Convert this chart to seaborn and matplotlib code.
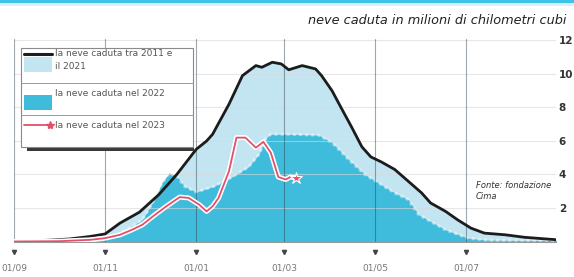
import numpy as np
import pandas as pd
import seaborn as sns
import matplotlib.pyplot as plt
from matplotlib.patches import Rectangle
from matplotlib.lines import Line2D
import matplotlib.patheffects as pe

# days counted from 1 September
days_mean = [0, 17, 37, 51, 61, 71, 84, 97, 109, 122, 129, 133, 144, 153, 162, 166, 173, 179,
             184, 193, 202, 206, 213, 219, 226, 233, 239, 246, 255, 264, 273, 279, 289, 297,
             306, 315, 329, 342, 364]
snow_mean = [0.0, 0.05, 0.15, 0.3, 0.45, 1.1, 1.75, 2.8, 4.0, 5.5, 6.0, 6.4, 8.2, 9.9, 10.5, 10.4, 10.7, 10.6,
             10.25, 10.5, 10.3, 9.9, 9.0, 8.0, 6.85, 5.65, 5.05, 4.75, 4.3, 3.6, 2.9, 2.3, 1.8, 1.3,
             0.8, 0.5, 0.4, 0.25, 0.1]

days_2022 = [0, 31, 57, 67, 77, 86, 94, 99, 104, 109, 114, 122, 134, 146, 157, 164, 169, 172,
             184, 204, 213, 224, 235, 244, 255, 264, 271, 289, 304, 317, 364]
snow_2022 = [0.0, 0.02, 0.1, 0.3, 0.8, 1.3, 2.5, 3.5, 4.1, 3.9, 3.3, 2.95, 3.3, 3.85, 4.45, 5.2, 6.2, 6.4,
             6.4, 6.35, 5.9, 4.9, 4.0, 3.5, 2.9, 2.5, 1.6, 0.7, 0.2, 0.08, 0.05]

days_2023 = [0, 31, 51, 61, 71, 79, 86, 93, 102, 111, 117, 124, 129, 133, 137, 144, 149, 155,
             162, 167, 172, 177, 182, 185, 189]
snow_2023 = [0.0, 0.02, 0.1, 0.2, 0.4, 0.7, 1.0, 1.5, 2.1, 2.65, 2.6, 2.2, 1.8, 2.1, 2.6, 4.2, 6.2, 6.2,
             5.6, 5.95, 5.3, 3.85, 3.7, 3.85, 3.8]

tick_days = [0, 61, 122, 181, 242, 303]
tick_labels = ['01/09', '01/11', '01/01', '01/03', '01/05', '01/07']
y_ticks = [2, 4, 6, 8, 10, 12]

light_blue = '#c3e5f2'
cyan = '#3fbcdb'
red = '#e4506a'

sns.set_style('white')
plt.rcParams['font.family'] = ['DejaVu Sans']

W, H = 574, 277
fig = plt.figure(figsize=(W / 100, H / 100), dpi=100)


def fx(px):
    return px / W


def fy(py):
    return 1 - py / H


ax = fig.add_axes([fx(14), fy(241.5), (556 - 14) / W, (241.5 - 38.8) / H])

mean_df = pd.DataFrame({'day': days_mean, 'snow': snow_mean})
df22 = pd.DataFrame({'day': days_2022, 'snow': snow_2022})
df23 = pd.DataFrame({'day': days_2023, 'snow': snow_2023})

ax.fill_between(mean_df['day'], 0, mean_df['snow'], color=light_blue, lw=0, zorder=1)
ax.fill_between(df22['day'], 0, df22['snow'], color=cyan, lw=0, zorder=2)
# fuzzy light edge on top of the 2022 area
ax.plot(df22['day'], df22['snow'], color='white', lw=2.2, ls=(0, (1, 1)), alpha=0.45, zorder=2.5)

for v in y_ticks:
    ax.axhline(v, color='#d8d8d8', lw=0.8, alpha=0.6, zorder=2.6)
for d in tick_days:
    ax.axvline(d, color='#2e3d48', lw=0.8, alpha=0.45, zorder=3)

sns.lineplot(data=mean_df, x='day', y='snow', ax=ax, color='#1c1c1c', lw=2, zorder=4)
sns.lineplot(data=df23, x='day', y='snow', ax=ax, color=red, lw=1.3, zorder=5,
             path_effects=[pe.withStroke(linewidth=3.6, foreground='white')])
ax.plot(df23['day'].iloc[-1], df23['snow'].iloc[-1], marker='*', ms=9, color=red,
        mec='white', mew=0.8, zorder=6)

ax.set_xlim(0, 363)
ax.set_ylim(0, 12.1)
ax.set_xlabel('')
ax.set_ylabel('')
for s in ['top', 'left', 'right']:
    ax.spines[s].set_visible(False)
ax.spines['bottom'].set_color('#9a9a9a')
ax.spines['bottom'].set_linewidth(0.8)

ax.set_xticks(tick_days)
ax.set_xticklabels(tick_labels)
ax.tick_params(axis='x', length=8, width=0.8, color='#444444', pad=8,
               labelsize=6.5, labelcolor='#777777')
ax.yaxis.tick_right()
ax.set_yticks(y_ticks)
ax.set_yticklabels([str(v) for v in y_ticks])
ax.tick_params(axis='y', length=0, pad=2, labelsize=7.5, labelcolor='#333333')
for t in ax.get_yticklabels():
    t.set_fontweight('bold')

# small arrow heads under the ticks
ax.plot(tick_days, [-0.052] * len(tick_days), 'v', ms=3, color='#444444',
        transform=ax.get_xaxis_transform(), clip_on=False)

# header line and title
fig.add_artist(Rectangle((0, fy(3)), 1, 3 / H, transform=fig.transFigure,
                         color='#3ec3e6', lw=0))
fig.add_artist(Rectangle((0, fy(6)), 1, 3 / H, transform=fig.transFigure,
                         color='#bfe8f5', lw=0, alpha=0.6))
fig.text(fx(308), fy(20), 'neve caduta in milioni di chilometri cubi', fontsize=9.3,
         style='italic', color='#222222', ha='left', va='center')

fig.text(fx(476), fy(181), 'Fonte: fondazione\nCima', fontsize=6, style='italic',
         color='#333333', ha='left', va='top', linespacing=1.3)

# legend box
fig.add_artist(Rectangle((fx(27), fy(151)), (194 - 27) / W, 4 / H, transform=fig.transFigure,
                         color='#3a3a3a', lw=0, zorder=10))
fig.add_artist(Rectangle((fx(21), fy(147)), (193 - 21) / W, (147 - 48) / H,
                         transform=fig.transFigure, facecolor='white', edgecolor='#8a8a8a',
                         lw=0.8, zorder=11))
for yy in [83, 115]:
    fig.add_artist(Line2D([fx(21), fx(193)], [fy(yy), fy(yy)], transform=fig.transFigure,
                          color='#9a9a9a', lw=0.7, zorder=12))
fig.add_artist(Rectangle((fx(24), fy(72)), 28 / W, 15 / H, transform=fig.transFigure,
                         color=light_blue, lw=0, zorder=12))
fig.add_artist(Line2D([fx(24), fx(52)], [fy(54), fy(54)], transform=fig.transFigure,
                      color='#1c1c1c', lw=2.2, zorder=13))
fig.add_artist(Rectangle((fx(24), fy(110)), 28 / W, 15 / H, transform=fig.transFigure,
                         color=cyan, lw=0, zorder=12))
fig.add_artist(Line2D([fx(24), fx(50)], [fy(125), fy(125)], transform=fig.transFigure,
                      color=red, lw=1.3, zorder=13))
fig.add_artist(Line2D([fx(50)], [fy(125)], transform=fig.transFigure, marker='*', ms=6,
                      color=red, zorder=13))

leg_kw = dict(fontsize=6.5, color='#555555', ha='left', zorder=14)
fig.text(fx(55), fy(49), 'la neve caduta tra 2011 e\nil 2021', va='top', linespacing=1.6, **leg_kw)
fig.text(fx(55), fy(93), 'la neve caduta nel 2022', va='center', **leg_kw)
fig.text(fx(55), fy(126), 'la neve caduta nel 2023', va='center', **leg_kw)

fig.savefig('out.png', dpi=100)
